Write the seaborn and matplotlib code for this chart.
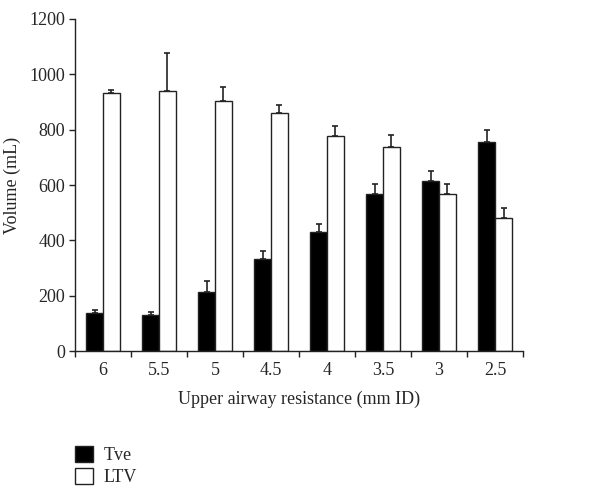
import matplotlib.pyplot as plt
import seaborn as sns
import pandas as pd
import numpy as np

sns.set_theme(style="white")
plt.rcParams["font.family"] = ["Liberation Serif", "DejaVu Serif"]

resistance = ["6", "5.5", "5", "4.5", "4", "3.5", "3", "2.5"]
tve = [138, 132, 212, 332, 430, 568, 613, 757]
tve_err = [10, 8, 43, 30, 30, 37, 37, 40]
ltv = [933, 940, 903, 860, 776, 737, 568, 480]
ltv_err = [10, 135, 52, 28, 36, 43, 37, 37]

df = pd.DataFrame({
    "resistance": resistance * 2,
    "volume": tve + ltv,
    "series": ["Tve"] * len(tve) + ["LTV"] * len(ltv),
})

fig = plt.figure(figsize=(6.14, 4.96), dpi=100)
ax = fig.add_axes([0.122, 0.292, 0.730, 0.670])

sns.barplot(ax=ax, data=df, x="resistance", y="volume", hue="series",
            order=resistance, hue_order=["Tve", "LTV"],
            palette=["black", "white"], edgecolor="#222222", linewidth=1.0,
            width=0.6, errorbar=None, legend=False)

# one-sided error bars on top of each bar
n = len(resistance)
bars = ax.patches[:2 * n]
errs = tve_err + ltv_err
for bar, e in zip(bars, errs):
    xc = bar.get_x() + bar.get_width() / 2
    ax.errorbar(xc, bar.get_height(), yerr=[[0], [e]], fmt="none",
                ecolor="#222222", elinewidth=1.2, capsize=2.5, capthick=1.2)

ax.set_ylim(0, 1200)
ax.set_xlim(-0.5, n - 0.5)
ax.set_yticks([0, 200, 400, 600, 800, 1000, 1200])
ax.set_xticks(np.arange(-0.5, n, 1.0), minor=True)
ax.tick_params(axis="x", which="major", length=0, labelsize=13, pad=8)
ax.tick_params(axis="x", which="minor", length=4, width=1, color="#222222", bottom=True)
ax.tick_params(axis="y", length=4, width=1, color="#222222", left=True, labelsize=13, pad=3)

ax.set_xlabel("Upper airway resistance (mm ID)", fontsize=13, labelpad=8)
ax.set_ylabel("Volume (mL)", fontsize=13, labelpad=6)

sns.despine(ax=ax)
for s in ["left", "bottom"]:
    ax.spines[s].set_color("#222222")
    ax.spines[s].set_linewidth(1.0)

handles = [plt.Rectangle((0, 0), 1, 1, facecolor="black", edgecolor="#222222"),
           plt.Rectangle((0, 0), 1, 1, facecolor="white", edgecolor="#222222")]
fig.legend(handles, ["Tve", "LTV"], loc="upper left", bbox_to_anchor=(0.11, 0.115),
           frameon=False, fontsize=13, handlelength=1.0, handleheight=1.0,
           handletextpad=0.6, labelspacing=0.2, borderaxespad=0)

fig.savefig("out.png", dpi=100)
